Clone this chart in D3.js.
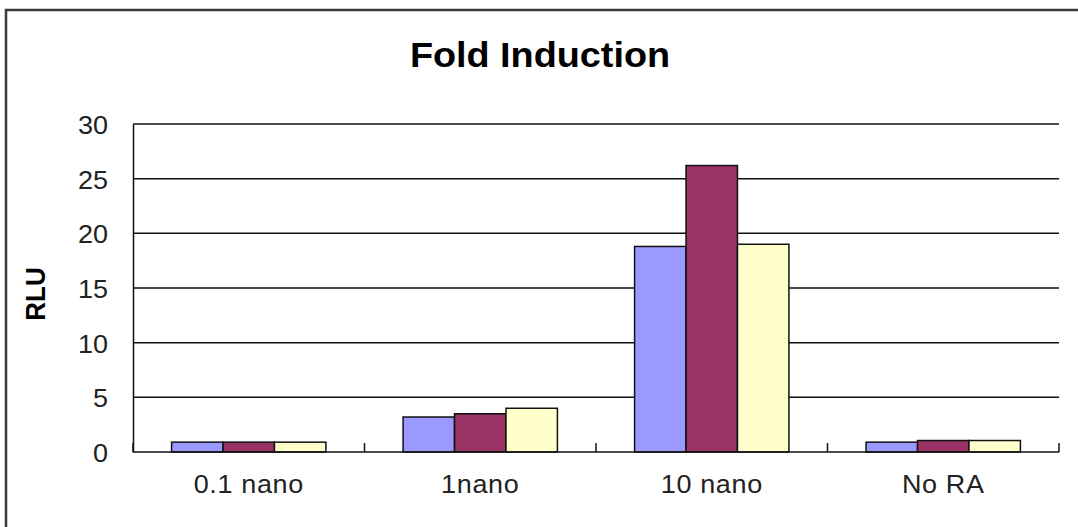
<!DOCTYPE html>
<html>
<head>
<meta charset="utf-8">
<script src="https://cdn.jsdelivr.net/npm/d3@7"></script>
<style>
  html, body { margin: 0; padding: 0; background: #fff; }
  svg { display: block; }
  text { font-family: "Liberation Sans", Arial, sans-serif; }
</style>
</head>
<body>
<svg id="chart" width="1078" height="527"></svg>
<script>
// Data
const categories = ["0.1 nano", "1nano", "10 nano", "No RA"];
const seriesNames = ["Series1", "Series2", "Series3"];
const series1 = [0.9, 3.2, 18.8, 0.9];
const series2 = [0.9, 3.5, 26.2, 1.05];
const series3 = [0.9, 4.0, 19.0, 1.05];
const yTicks = [0, 5, 10, 15, 20, 25, 30];
const colors = ["#9999FF", "#993366", "#FFFFCC"];

const W = 1078, H = 527;
const margin = { left: 133, right: 19, top: 124, bottom: 75 };
const plotW = W - margin.left - margin.right;
const plotH = H - margin.top - margin.bottom;
const stretch = 1.08;

const svg = d3.select("#chart");

// Outer chart frame
svg.append("rect")
  .attr("x", 6).attr("y", 10)
  .attr("width", W + 20).attr("height", H + 20)
  .attr("fill", "#fff")
  .attr("stroke", "#3a3a3a")
  .attr("stroke-width", 2.5);

const g = svg.append("g").attr("transform", `translate(${margin.left},${margin.top})`);

const y = d3.scaleLinear().domain([0, 30]).range([plotH, 0]);
const x0 = d3.scaleBand().domain(categories).range([0, plotW]).padding(0);
const bw = x0.bandwidth();
const gap = bw / 4.5 * 1.5;
const x1 = d3.scaleBand().domain(seriesNames).range([gap / 2, bw - gap / 2]).padding(0);

// Horizontal gridlines
g.append("g").selectAll("line")
  .data(yTicks.filter(d => d > 0))
  .join("line")
  .attr("x1", 0).attr("x2", plotW)
  .attr("y1", d => y(d)).attr("y2", d => y(d))
  .attr("stroke", "#111").attr("stroke-width", 1.5);

// Bars
const rows = categories.map((c, i) => ({
  cat: c,
  vals: [series1[i], series2[i], series3[i]]
}));
g.append("g").selectAll("g")
  .data(rows)
  .join("g")
  .attr("transform", d => `translate(${x0(d.cat)},0)`)
  .selectAll("rect")
  .data(d => d.vals.map((v, j) => ({ s: seriesNames[j], v, j })))
  .join("rect")
  .attr("x", d => x1(d.s))
  .attr("width", x1.bandwidth())
  .attr("y", d => y(d.v))
  .attr("height", d => y(0) - y(d.v))
  .attr("fill", d => colors[d.j])
  .attr("stroke", "#111")
  .attr("stroke-width", 1.5);

// Y axis
const yAxis = g.append("g")
  .call(d3.axisLeft(y).tickValues(yTicks).tickSize(0).tickPadding(0));
yAxis.select(".domain").attr("stroke", "#111").attr("stroke-width", 1.5);
yAxis.selectAll(".tick text")
  .attr("x", 0).attr("dy", null)
  .attr("dominant-baseline", "central")
  .attr("text-anchor", "end")
  .attr("transform", `translate(-25,1) scale(${stretch},1)`)
  .attr("font-size", 25)
  .attr("font-family", "Liberation Sans, Arial, sans-serif")
  .attr("fill", "#222");

// X axis with inward ticks at category boundaries
const xAxis = g.append("g").attr("transform", `translate(0,${plotH})`);
xAxis.append("line")
  .attr("x1", 0).attr("x2", plotW)
  .attr("stroke", "#111").attr("stroke-width", 1.5);
const boundaries = categories.map(c => x0(c)).concat([plotW]);
xAxis.selectAll("line.tk")
  .data(boundaries)
  .join("line")
  .attr("class", "tk")
  .attr("x1", d => d).attr("x2", d => d)
  .attr("y1", 0).attr("y2", -9)
  .attr("stroke", "#111").attr("stroke-width", 1.5);
xAxis.selectAll("text.cat")
  .data(categories)
  .join("text")
  .attr("class", "cat")
  .attr("text-anchor", "middle")
  .attr("transform", d => `translate(${x0(d) + bw / 2},41) scale(${stretch},1)`)
  .attr("font-size", 25)
  .attr("letter-spacing", 0.6)
  .attr("fill", "#222")
  .text(d => d);

// Title
svg.append("text")
  .attr("text-anchor", "middle")
  .attr("transform", `translate(540,67) scale(${stretch},1)`)
  .attr("font-size", 35)
  .attr("font-weight", "bold")
  .attr("fill", "#000")
  .text("Fold Induction");

// Y axis title
svg.append("text")
  .attr("text-anchor", "middle")
  .attr("transform", `translate(45,294) scale(${stretch},1) rotate(-90)`)
  .attr("font-size", 26)
  .attr("font-weight", "bold")
  .attr("fill", "#000")
  .text("RLU");
</script>
</body>
</html>
